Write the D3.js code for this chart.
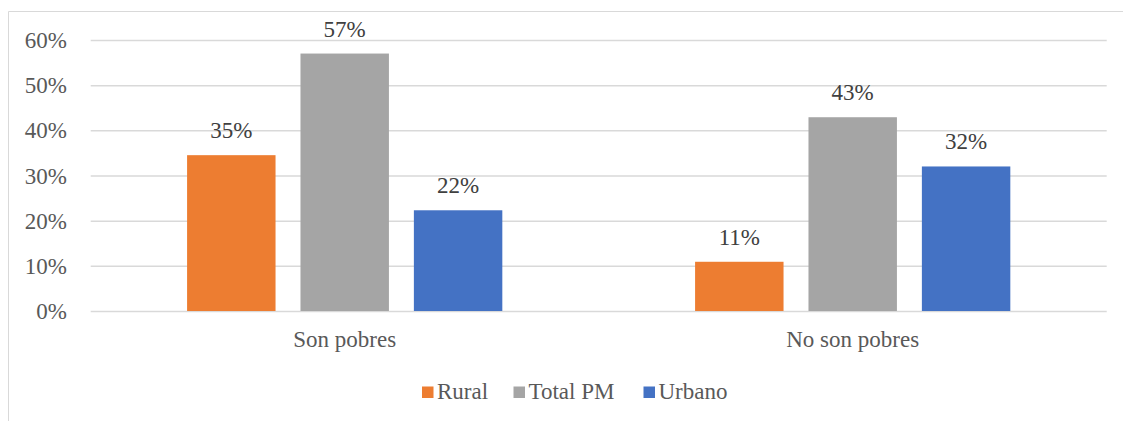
<!DOCTYPE html>
<html>
<head>
<meta charset="utf-8">
<script src="https://cdn.jsdelivr.net/npm/d3@7"></script>
<style>
  html, body { margin: 0; padding: 0; background: #fff; }
  svg { display: block; }
</style>
</head>
<body>
<svg id="chart" width="1123" height="421"></svg>
<script>
const categories = ["Son pobres", "No son pobres"];
const seriesNames = ["Rural", "Total PM", "Urbano"];
const rural = [0.345, 0.109];
const totalPM = [0.570, 0.429];
const urbano = [0.223, 0.320];
const labelsRural = ["35%", "11%"];
const labelsTotal = ["57%", "43%"];
const labelsUrbano = ["22%", "32%"];
const yTicks = [0, 0.1, 0.2, 0.3, 0.4, 0.5, 0.6];
const colors = ["#ED7D31", "#A5A5A5", "#4472C4"];

const seriesValues = [rural, totalPM, urbano];
const seriesLabels = [labelsRural, labelsTotal, labelsUrbano];

const FONT = "Liberation Serif";
const FS = 23;

const svg = d3.select("#chart");
const W = 1123, H = 421;

// frame (cut off at right and bottom)
svg.append("path")
  .attr("d", `M8.5,${H} L8.5,11.5 L${W},11.5`)
  .attr("fill", "none").attr("stroke", "#D9D9D9").attr("stroke-width", 1);

const plotLeft = 90.7, plotRight = 1106.7;
const y = d3.scaleLinear().domain([0, 0.6]).range([311, 40]);
const x0 = d3.scaleBand().domain(categories).range([plotLeft, plotRight]).padding(0);
const x1 = d3.scaleBand().domain(seriesNames).range([0, x0.bandwidth()])
  .paddingInner(0.22).paddingOuter(0.85);

// gridlines
const gridAxis = d3.axisLeft(y).tickValues(yTicks).tickFormat("")
  .tickSize(-(plotRight - plotLeft));
const gg = svg.append("g").attr("transform", `translate(${plotLeft},0)`).call(gridAxis);
gg.select(".domain").remove();
gg.selectAll(".tick text").remove();
gg.selectAll(".tick line").attr("stroke", "#D9D9D9").attr("stroke-width", 1.5);

// y labels
const fmt = d3.format(".0%");
svg.append("g").selectAll("text").data(yTicks).join("text")
  .attr("x", 67)
  .attr("y", d => y(d) + 8)
  .attr("text-anchor", "end")
  .attr("fill", "#595959")
  .attr("font-family", FONT)
  .attr("font-size", FS)
  .text(d => fmt(d));

// bars
const data = [];
categories.forEach((c, i) => {
  seriesNames.forEach((s, j) => {
    data.push({ cat: c, s: s, j: j, v: seriesValues[j][i], label: seriesLabels[j][i] });
  });
});

svg.append("g").selectAll("rect").data(data).join("rect")
  .attr("x", d => x0(d.cat) + x1(d.s))
  .attr("y", d => y(d.v))
  .attr("width", x1.bandwidth())
  .attr("height", d => y(0) - y(d.v))
  .attr("fill", d => colors[d.j]);

// data labels
svg.append("g").selectAll("text").data(data).join("text")
  .attr("x", d => x0(d.cat) + x1(d.s) + x1.bandwidth() / 2)
  .attr("y", d => y(d.v) - 17)
  .attr("text-anchor", "middle")
  .attr("fill", "#404040")
  .attr("font-family", FONT)
  .attr("font-size", FS)
  .text(d => d.label);

// category axis labels
svg.append("g").selectAll("text").data(categories).join("text")
  .attr("x", d => x0(d) + x0.bandwidth() / 2)
  .attr("y", 347)
  .attr("text-anchor", "middle")
  .attr("fill", "#595959")
  .attr("font-family", FONT)
  .attr("font-size", FS)
  .text(d => d);

// legend
const legend = svg.append("g");
const items = legend.selectAll("g").data(seriesNames).join("g");
items.append("rect").attr("width", 11.5).attr("height", 11.5).attr("y", 386.5)
  .attr("fill", (d, i) => colors[i]);
items.append("text").attr("x", 15).attr("y", 398.5)
  .attr("fill", "#595959")
  .attr("font-family", FONT)
  .attr("font-size", FS)
  .text(d => d);

const legendX = [422, 513.5, 643.5];
items.attr("transform", (d, i) => `translate(${legendX[i]},0)`);
</script>
</body>
</html>
